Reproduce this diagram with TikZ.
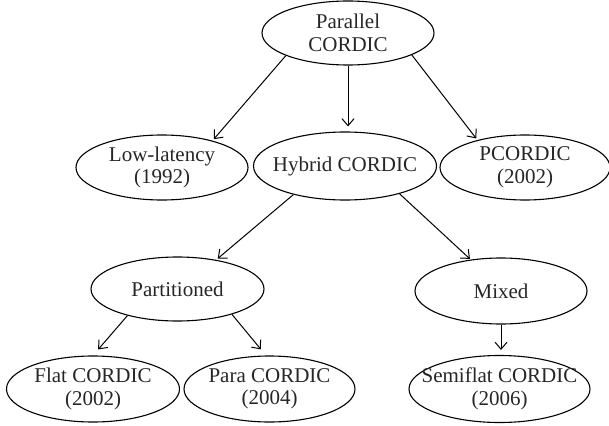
\documentclass[tikz,border=0pt]{standalone}
\usepackage{fontspec}
\setmainfont{Liberation Serif}
\usetikzlibrary{shapes.geometric,arrows.meta}
\begin{document}
\begin{tikzpicture}[x=1pt,y=-1pt,
  ell/.style={draw=black, line width=1.1pt, ellipse, inner sep=0pt},
  txt/.style={align=center, inner sep=0pt, text=black!85, font=\fontsize{21}{22.5}\selectfont},
  arr/.style={-{Straight Barb[length=7pt,width=12pt]}, line width=1pt, shorten >=2pt}]
\useasboundingbox (0,0) rectangle (609,425);
% ellipses
\node[ell, minimum width=172pt, minimum height=64pt] (nPar) at (348,33) {};
\node[ell, minimum width=172pt, minimum height=65pt] (nLow) at (162,167.5) {};
\node[ell, minimum width=183pt, minimum height=68pt] (nHyb) at (345,166) {};
\node[ell, minimum width=170pt, minimum height=65pt] (nPco) at (525,167.5) {};
\node[ell, minimum width=173pt, minimum height=64pt] (nPart) at (177.5,289) {};
\node[ell, minimum width=172pt, minimum height=66pt] (nMix) at (501,291) {};
\node[ell, minimum width=173pt, minimum height=66pt] (nFlat) at (93,389) {};
\node[ell, minimum width=171pt, minimum height=66pt] (nPara) at (269.5,389) {};
\node[ell, minimum width=181pt, minimum height=67pt] (nSemi) at (499.5,389) {};
% texts
\node[txt] (tPar) at (nPar) {Parallel\\CORDIC};
\node[txt] (tLow) at (nLow) {Low-latency\\(1992)};
\node[txt] (tHyb) at (nHyb) {Hybrid CORDIC};
\node[txt] (tPco) at (nPco) {PCORDIC\\(2002)};
\node[txt] (tPart) at (nPart) {Partitioned};
\node[txt] (tMix) at (nMix) {Mixed};
\node[txt] (tFlat) at (nFlat) {Flat CORDIC\\(2002)};
\node[txt] (tPara) at (nPara) {Para CORDIC\\(2004)};
\node[txt] (tSemi) at (nSemi) {Semiflat CORDIC\\(2006)};
% connectors
\draw[arr] (nPar.200) -- (nLow.28);
\draw[arr, shorten >=5pt] (nPar.south) -- (nPar.south |- nHyb.north);
\draw[arr] (nPar.341) -- (nPco.150);
\draw[arr] (nHyb.209) -- (nPart.37);
\draw[arr, shorten >=1pt] (nHyb.333) -- (nMix.134);
\draw[arr, shorten >=8pt] (nPart.208) -- (nFlat.north);
\draw[arr, shorten >=8pt] (nPart.335) -- (nPara.96);
\draw[arr, shorten >=5pt] (nMix.south) -- (nMix.south |- nSemi.north);
\end{tikzpicture}
\end{document}
